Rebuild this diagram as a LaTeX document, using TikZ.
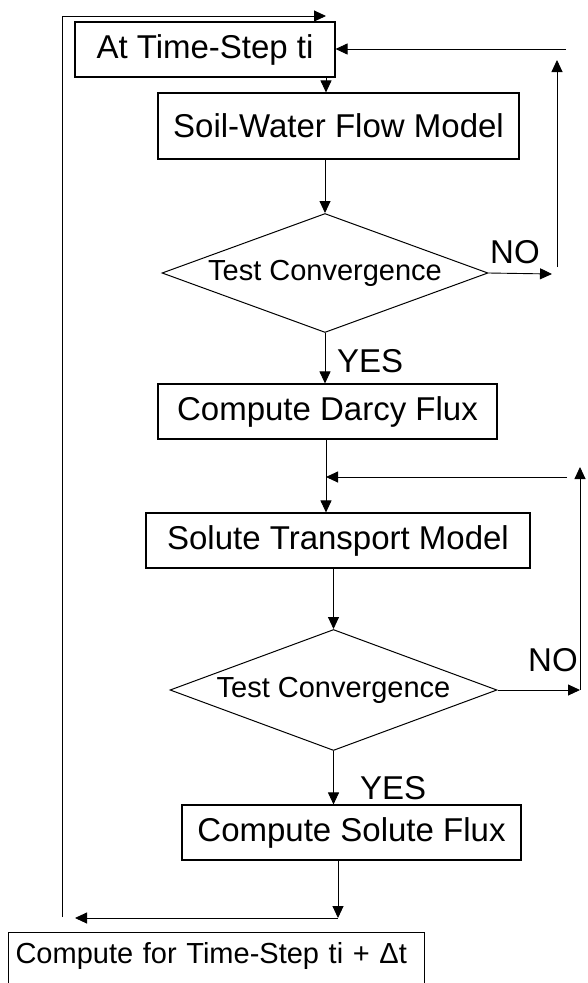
\documentclass[tikz,border=0pt]{standalone}
\usepackage{fontspec}
\setmainfont{Liberation Sans}
\usetikzlibrary{arrows.meta,shapes.geometric}
\begin{document}
\begin{tikzpicture}[x=1pt,y=-1pt,
  box/.style={draw,line width=1.1pt,inner sep=0pt,font=\fontsize{33}{36}\selectfont},
  dia/.style={draw,line width=1pt,diamond,aspect=2.7,inner sep=0pt,font=\fontsize{29}{32}\selectfont},
  lbl/.style={anchor=base west,inner sep=0pt,font=\fontsize{33}{36}\selectfont},
  conn/.style={line width=0.9pt},
  arr/.style={conn,-{Triangle[length=12pt,width=11pt]}}]
\useasboundingbox (0,0) rectangle (587,983);
\coordinate (ax) at (326,0);
% nodes
\node[box,minimum width=260pt,minimum height=55pt] (A) at (205,49.5) {At Time-Step ti};
\node[box,minimum width=361pt,minimum height=66pt] (B) at (338.5,126) {Soil-Water Flow Model};
\node[dia,minimum width=326pt,minimum height=119pt] (D1) at (325,273) {Test Convergence};
\node[box,minimum width=339pt,minimum height=55pt] (C) at (327.5,411.5) {Compute Darcy Flux};
\node[box,minimum width=384pt,minimum height=55pt] (E) at (338,540.5) {Solute Transport Model};
\node[dia,minimum width=327pt,minimum height=121pt] (D2) at (333.5,690) {Test Convergence};
\node[box,minimum width=339pt,minimum height=55pt] (F) at (351.5,832.5) {Compute Solute Flux};
\node[draw,line width=1.1pt,anchor=north west,inner xsep=7pt,inner ysep=0pt,
  text width=402pt,align=left,text height=31pt,text depth=39pt,
  font=\fontsize{29}{32}\selectfont] (G) at (8,932) {\mbox{Compute for Time-Step ti + Δt}};
% labels
\node[lbl] (no1) at (490,263) {NO};
\node[lbl] (yes1) at (337,372) {YES};
\node[lbl] (no2) at (528,671) {NO};
\node[lbl] (yes2) at (360,799) {YES};
% helper coordinates
\coordinate (tl) at (62,16);
\coordinate (bl) at (62,917);
\coordinate (r1b) at (557,267);
\coordinate (r1t) at (557,60);
\coordinate (r1e) at (566,49);
\coordinate (n1) at (552,274);
\coordinate (r2b) at (580,690);
\coordinate (r2t) at (580,467);
\coordinate (r2e) at (567,477);
\coordinate (fb) at (338,918);
\coordinate (fl) at (75,918);
% main spine
\draw[conn] (bl) -- (tl);
\draw[arr] (tl) -- (tl -| ax);
\draw[arr] (A.south -| ax) -- (B.north -| ax);
\draw[arr] (B.south -| D1.north) -- (D1.north);
\draw[arr] (D1.south) -- (D1.south |- C.north);
\draw[arr] (C.south -| ax) -- (E.north -| ax);
\draw[arr] (E.south -| D2.north) -- (D2.north);
\draw[arr] (D2.south) -- (D2.south |- F.north);
\draw[arr] (F.south -| fb) -- (fb);
\draw[arr] (fb) -- (fl);
% loop 1
\draw[arr] (D1.east) -- (n1);
\draw[arr] (r1b) -- (r1t);
\draw[arr] (r1e) -- (A.east |- r1e);
% loop 2
\draw[arr] (D2.east) -- (r2b);
\draw[arr] (r2b) -- (r2t);
\draw[arr] (r2e) -- (r2e -| ax);
\end{tikzpicture}
\end{document}
